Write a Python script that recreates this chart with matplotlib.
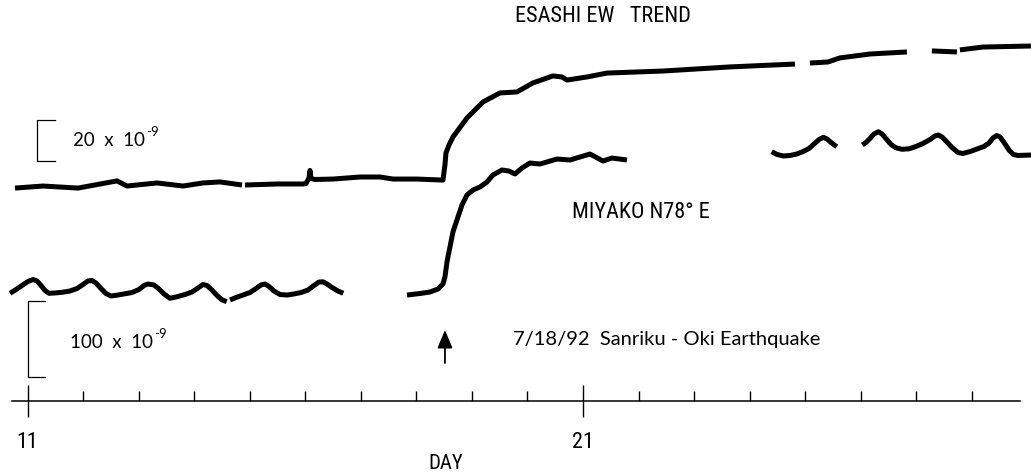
import numpy as np
import matplotlib
matplotlib.use("Agg")
import matplotlib.pyplot as plt
from matplotlib import font_manager

nan = np.nan

# Esashi EW extensometer, trend removed (strain in units of 1e-9); NaN = missing record
esashi_day = [
    10.775, 11.279, 11.909, 12.611, 12.791, 13.331, 13.799, 14.159, 14.465, 14.861, nan,
    14.915, 15.491, 15.959, 16.013, 16.067, 16.085, 16.103, 16.175, 16.499, 16.985,
    17.345, 17.579, 18.011, 18.479, 18.515, 18.533, 18.587, 18.659, 18.911, 19.199,
    19.505, 19.811, 20.099, 20.459, 20.621, 20.711, 21.071, 21.431, 22.439, 23.645,
    24.815, nan,
    25.085, 25.409, 25.625, 26.165, 26.831, nan,
    27.281, 27.731, nan,
    27.785, 28.199, 29.063,
]
esashi_strain = [
    -1.5, -0.5, -1.5, 2.0, -0.5, 1.0, -0.5, 1.0, 1.5, 0.0, nan,
    0.0, 0.5, 0.5, 0.7, 3.4, 7.1, 3.2, 2.7, 2.9, 3.9,
    3.9, 2.9, 2.9, 2.4, 9.8, 15.6, 19.5, 23.4, 32.7, 40.5,
    44.9, 45.4, 49.8, 53.2, 52.7, 51.2, 52.7, 54.6, 55.6, 57.6,
    59.0, nan,
    59.5, 60.0, 62.0, 63.9, 64.9, nan,
    65.4, 64.9, nan,
    65.9, 67.3, 67.8,
]

# Miyako N78E extensometer (strain in units of 1e-9); NaN = missing record
miyako_day = [
    10.685, 10.793, 10.901, 11.009, 11.099, 11.171, 11.243, 11.315, 11.387, 11.495,
    11.621, 11.765, 11.891, 11.999, 12.089, 12.161, 12.233, 12.323, 12.413, 12.503,
    12.629, 12.755, 12.881, 13.007, 13.097, 13.169, 13.277, 13.367, 13.457, 13.565,
    13.691, 13.835, 13.961, 14.069, 14.159, 14.231, 14.321, 14.411, 14.501, 14.586, nan,
    14.645, 14.753, 14.879, 15.005, 15.113, 15.203, 15.275, 15.347, 15.437, 15.545,
    15.671, 15.797, 15.923, 16.049, 16.157, 16.247, 16.319, 16.391, 16.481, 16.589,
    16.685, nan,
    17.832, 18.066, 18.246, 18.390, 18.479, 18.515, 18.551, 18.605, 18.659, 18.731,
    18.821, 18.911, 19.019, 19.145, 19.271, 19.379, 19.541, 19.667, 19.775, 19.901,
    20.045, 20.225, 20.531, 20.765, 21.125, 21.241, 21.359, 21.521, 21.791, nan,
    24.397, 24.493, 24.606, 24.727, 24.847, 24.961, 25.069, 25.159, 25.249, 25.326,
    25.393, 25.465, 25.567, nan,
    26.028, 26.095, 26.167, 26.239, 26.316, 26.383, 26.467, 26.545, 26.635, 26.743,
    26.869, 26.995, 27.126, 27.247, 27.337, 27.396, 27.463, 27.547, 27.643, 27.751,
    27.841, 27.967, 28.093, 28.219, 28.309, 28.381, 28.448, 28.507, 28.579, 28.669,
    28.746, 28.830, 28.956, 29.065,
]
miyako_strain = [
    -1.7, 3.3, 8.6, 13.9, 16.5, 14.6, 8.6, 2.0, -1.7, -1.3,
    -0.4, 1.3, 4.6, 9.9, 14.6, 15.2, 11.9, 4.6, -2.0, -5.3,
    -4.0, -2.4, -0.7, 3.3, 8.6, 10.6, 9.3, 4.0, -2.6, -8.3,
    -6.3, -3.3, 0.0, 5.3, 9.9, 8.6, 2.6, -4.6, -10.3, -12.8, nan,
    -10.6, -7.3, -4.0, -0.7, 4.6, 9.3, 10.6, 7.3, 1.3, -3.3,
    -4.0, -2.6, -0.7, 2.6, 8.6, 13.2, 13.5, 10.6, 6.0, 1.3,
    -1.7, nan,
    -4.0, -2.0, 0.0, 4.0, 10.6, 19.8, 39.7, 59.5, 79.4, 95.2,
    115.1, 128.3, 134.9, 138.9, 145.5, 154.8, 161.4, 160.0, 156.1, 164.0,
    170.6, 169.3, 175.9, 174.6, 182.5, 178.0, 173.2, 177.2, 174.6, nan,
    185.6, 181.9, 179.9, 180.6, 182.5, 185.8, 189.8, 195.8, 201.7, 204.6,
    202.4, 197.8, 192.2, nan,
    194.5, 197.8, 203.1, 209.0, 212.0, 209.0, 201.7, 195.1, 190.7, 188.8,
    189.4, 192.5, 196.7, 201.7, 206.4, 207.7, 205.0, 198.8, 191.1, 184.5,
    183.2, 185.8, 189.2, 192.5, 197.1, 203.7, 207.0, 205.0, 197.8, 187.8,
    181.9, 180.6, 181.0, 181.2,
]

day_major = [11, 21]
day_minor = [12, 13, 14, 15, 16, 17, 18, 19, 20, 22, 23, 24, 25, 26, 27, 28]
quake_day = 18.515
esashi_scale = 20     # scale bar, 1e-9
miyako_scale = 100    # scale bar, 1e-9

# ---------------------------------------------------------------- fonts
installed = {f.name for f in font_manager.fontManager.ttflist}
narrow = next((n for n in ["Liberation Sans Narrow", "DejaVu Sans Condensed",
                           "Roboto Condensed"] if n in installed), "Liberation Sans")
round_font = "Lato" if "Lato" in installed else "DejaVu Sans"

W, H = 1031, 473
fig = plt.figure(figsize=(W / 100, H / 100), dpi=100)


def fx(px):
    return px / W


def fy(py):
    return 1 - py / H


PX_PER_DAY = 55.55
X0 = 11 - 27.5 / PX_PER_DAY
X1 = 11 + (W - 27.5) / PX_PER_DAY

# ---------------------------------------------------------------- day axis
ax = fig.add_axes([0, fy(401), 1, 1 - fy(401)])
ax.set_xlim(X0, X1)
ax.set_ylim(0, 1)
ax.patch.set_alpha(0)
for side in ("top", "right", "left"):
    ax.spines[side].set_visible(False)
ax.spines["bottom"].set_bounds(10.72, 28.87)
ax.spines["bottom"].set_linewidth(1.1)
ax.yaxis.set_visible(False)
ax.set_xticks(day_major)
ax.set_xticks(day_minor, minor=True)
ax.tick_params(axis="x", which="major", direction="inout", length=23, width=1.0,
               pad=11, labelsize=16)
ax.tick_params(axis="x", which="minor", direction="in", length=7, width=1.0)
for lab in ax.get_xticklabels():
    lab.set_fontfamily(narrow)
fig.text(fx(446), fy(463), "DAY", ha="center", va="center", fontsize=15,
         fontfamily=narrow)

# ---------------------------------------------------------------- Esashi trace
axE = fig.add_axes([0, 0, 1, 1])
axE.set_xlim(X0, X1)
axE.set_ylim((185 - H) / 2.05, 185 / 2.05)
axE.axis("off")
axE.plot(esashi_day, esashi_strain, color="black", lw=3.6,
         solid_capstyle="butt", solid_joinstyle="round")

e_lo = 11.7
axE.plot([11.495, 11.171, 11.171, 11.495],
         [e_lo, e_lo, e_lo + esashi_scale, e_lo + esashi_scale],
         color="black", lw=0.9)

# ---------------------------------------------------------------- Miyako trace
axM = fig.add_axes([0, 0, 1, 1])
axM.set_xlim(X0, X1)
axM.set_ylim((292 - H) / 0.756, 292 / 0.756)
axM.axis("off")
axM.plot(miyako_day, miyako_strain, color="black", lw=3.6,
         solid_capstyle="butt", solid_joinstyle="round")

m_lo = -112.4
axM.plot([11.315, 11.009, 11.009, 11.315],
         [m_lo, m_lo, m_lo + miyako_scale, m_lo + miyako_scale],
         color="black", lw=0.9)

# ---------------------------------------------------------------- annotations
axE.annotate("", xy=(quake_day, fy(330)), xytext=(quake_day, fy(363)),
             xycoords=("data", "figure fraction"),
             textcoords=("data", "figure fraction"),
             arrowprops=dict(arrowstyle="-|>,head_length=11,head_width=4.6",
                             mutation_scale=1, lw=1.3, color="black",
                             shrinkA=0, shrinkB=0))

fig.text(fx(515), fy(17), "ESASHI EW   TREND", ha="left", va="center",
         fontsize=16, fontfamily=narrow)
fig.text(fx(572), fy(212), "MIYAKO N78° E", ha="left", va="center",
         fontsize=16, fontfamily=narrow)


def scale_label(px, py, base):
    """Scale-bar caption with a raised exponent."""
    t = fig.text(fx(px), fy(py), base, ha="left", va="center",
                 fontsize=13.5, fontfamily=round_font)
    axE.annotate("-9", xy=(1.0, 1.0), xycoords=t, xytext=(1, 0),
                 textcoords="offset points", ha="left", va="center",
                 fontsize=9.5, fontfamily=round_font)


scale_label(73, 140, "20  x  10")
scale_label(70, 342, "100  x  10")

fig.text(fx(513), fy(339), "7/18/92  Sanriku - Oki Earthquake", ha="left",
         va="center", fontsize=14.5, fontfamily=round_font)

fig.savefig("out.png", dpi=100, facecolor="white")
